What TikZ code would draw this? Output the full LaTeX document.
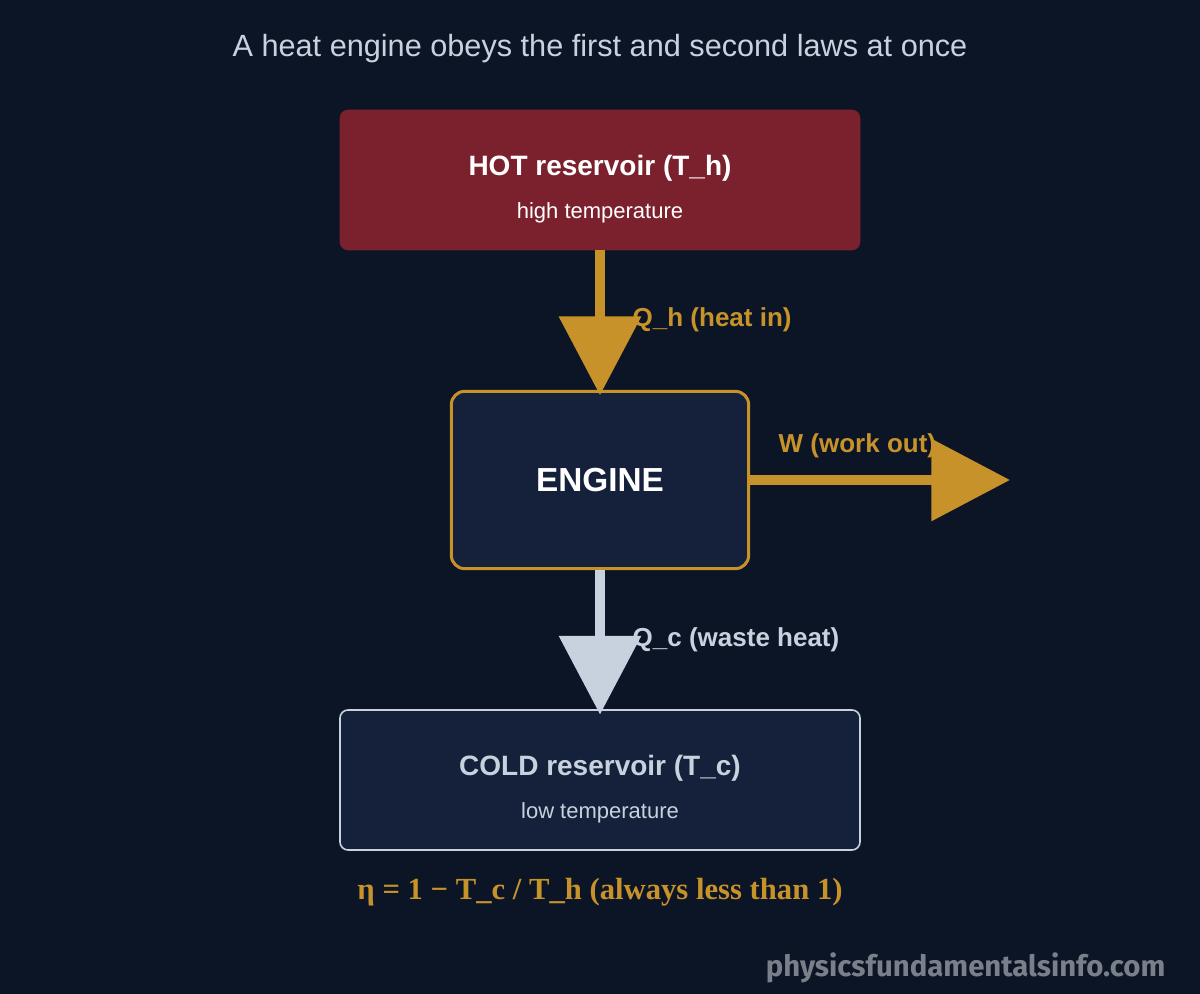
\documentclass[tikz,border=0pt]{standalone}
\usepackage{fontspec}
\setmainfont{Liberation Sans}
\newfontfamily\fserif{Liberation Serif}
\newfontfamily\fwm{Fira Sans}
\usetikzlibrary{arrows.meta}
\definecolor{bg}{HTML}{0B1526}
\definecolor{hotc}{HTML}{7B212D}
\definecolor{boxc}{HTML}{15213A}
\definecolor{gold}{HTML}{C8922A}
\definecolor{pale}{HTML}{C8D2DE}
\definecolor{wm}{HTML}{7A808A}
\begin{document}
\begin{tikzpicture}[x=0.75pt,y=-0.75pt,
  box/.style={draw, rounded corners=8pt, inner sep=0pt},
  lab/.style={font=\bfseries\fontsize{19.5}{22}\selectfont, anchor=west},
  flow/.style={line width=7.5pt, -{Triangle[length=59pt,width=60pt]}}]
\fill[bg] (0,0) rectangle (1200,994);
\useasboundingbox (0,0) rectangle (1200,994);
\node[text=pale, font=\fontsize{23}{26}\selectfont] (title) at (600,49) {A heat engine obeys the first and second laws at once};
\node[box, fill=hotc, draw=hotc, rounded corners=6pt, minimum width=390pt, minimum height=105pt] (hot) at (600,180) {};
\node[text=white, font=\bfseries\fontsize{21}{24}\selectfont] (hott) at (600,168) {HOT reservoir (T\_h)};
\node[text=white, font=\fontsize{16.5}{19}\selectfont] (hots) at (600,213) {high temperature};
\node[box, fill=boxc, draw=gold, line width=2.25pt, rounded corners=10pt, minimum width=223pt, minimum height=133pt, text=white, font=\bfseries\fontsize{25}{28}\selectfont] (engine) at (600,480) {ENGINE};
\node[box, fill=boxc, draw=pale, line width=1.2pt, rounded corners=6pt, minimum width=390pt, minimum height=105pt] (cold) at (600,780) {};
\node[text=pale, font=\bfseries\fontsize{21}{24}\selectfont] (coldt) at (600,768) {COLD reservoir (T\_c)};
\node[text=pale, font=\fontsize{16.5}{19}\selectfont] (colds) at (600,813) {low temperature};
\coordinate (wend) at (1010,480);
\draw[flow, draw=gold, fill=gold] (hot.south) -- ([yshift=-4pt]engine.north);
\draw[flow, draw=gold, fill=gold] (engine.east) -- (wend);
\draw[flow, draw=pale, fill=pale] (engine.south) -- ([yshift=-4pt]cold.north);
\node[lab, text=gold] (qh) at (628,320) {Q\_h (heat in)};
\node[lab, text=gold] (w) at (774,446) {W (work out)};
\node[lab, text=pale] (qc) at (628,640) {Q\_c (waste heat)};
\node[text=gold, font=\fserif\bfseries\fontsize{23}{26}\selectfont] (eta) at (600,892) {η = 1 − T\_c / T\_h (always less than 1)};
\node[text=wm, font=\fwm\bfseries\fontsize{22}{25}\selectfont, anchor=east] (wmk) at (1170,968) {physicsfundamentalsinfo.com};
\end{tikzpicture}
\end{document}
